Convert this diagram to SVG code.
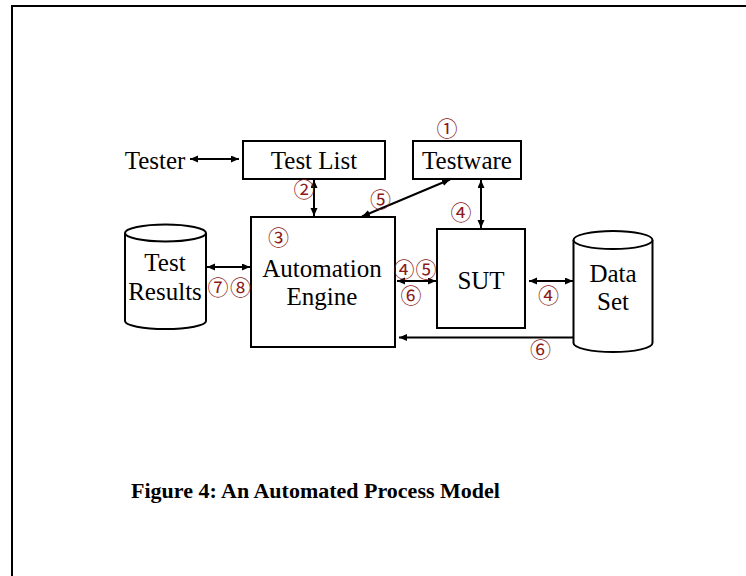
<svg xmlns="http://www.w3.org/2000/svg" width="746" height="576" viewBox="0 0 746 576">
<defs>
<marker id="ah" markerUnits="userSpaceOnUse" markerWidth="9" markerHeight="8" refX="8" refY="3.5" orient="auto-start-reverse">
<path d="M0,0 L8,3.5 L0,7 z" fill="#000"/>
</marker>
<style>
.box{fill:#fff;stroke:#000;stroke-width:2}
.cyl{fill:#fff;stroke:#000;stroke-width:2}
.lbl{font-family:"Liberation Serif","Times New Roman",serif;font-size:25px;fill:#000;text-anchor:middle}
.num{font-family:"Noto Sans CJK JP","DejaVu Sans",sans-serif;font-size:21px;fill:#8B1A1A;text-anchor:middle;dominant-baseline:central}
.con{stroke:#000;stroke-width:2;fill:none}
.ar2{marker-start:url(#ah);marker-end:url(#ah)}
.ar1{marker-end:url(#ah)}
.cap{font-family:"Liberation Serif","Times New Roman",serif;font-size:22px;font-weight:bold;fill:#000}
</style>
</defs>
<rect width="746" height="576" fill="#fff"/>
<path d="M12,576 L12,6 L746,6" fill="none" stroke="#000" stroke-width="2"/>

<g id="tester"><text class="lbl" x="155" y="169">Tester</text></g>
<g id="testlist"><rect class="box" x="243" y="141" width="142" height="38"/><text class="lbl" x="314" y="169">Test List</text></g>
<g id="testware"><rect class="box" x="413" y="141" width="108" height="38"/><text class="lbl" x="467" y="169">Testware</text></g>
<g id="engine"><rect class="box" x="251" y="217" width="144" height="130"/><text class="lbl" x="322" y="277">Automation</text><text class="lbl" x="322" y="305">Engine</text></g>
<g id="sut"><rect class="box" x="437" y="229" width="88" height="99"/><text class="lbl" x="481" y="289">SUT</text></g>
<g id="testresults">
<path class="cyl" d="M125,233 L125,321 A40.5,8 0 0 0 206,321 L206,233"/>
<ellipse class="cyl" cx="165.5" cy="233" rx="40.5" ry="8.5"/>
<text class="lbl" x="165" y="271">Test</text><text class="lbl" x="165" y="300">Results</text>
</g>
<g id="dataset">
<path class="cyl" d="M573.5,240 L573.5,343 A39.5,9 0 0 0 652.5,343 L652.5,240"/>
<ellipse class="cyl" cx="613" cy="240" rx="39.5" ry="9"/>
<text class="lbl" x="613" y="282">Data</text><text class="lbl" x="613" y="310">Set</text>
</g>

<g id="connectors">
<line class="con ar2" x1="190" y1="159" x2="239" y2="159"/>
<line class="con ar2" x1="314" y1="180" x2="314" y2="216"/>
<line class="con ar2" x1="450" y1="179.5" x2="362" y2="216.5"/>
<line class="con ar2" x1="481" y1="180" x2="481" y2="228"/>
<line class="con ar2" x1="207" y1="267" x2="250" y2="267"/>
<line class="con ar2" x1="397" y1="281" x2="436" y2="281"/>
<line class="con ar2" x1="529" y1="281" x2="573" y2="281"/>
<line class="con ar1" x1="573" y1="337.5" x2="399" y2="337.5"/>
</g>

<g id="labels">
<text class="num" x="447" y="127">①</text>
<text class="num" x="304" y="188">②</text>
<text class="num" x="380.5" y="198">⑤</text>
<text class="num" x="461" y="210.5">④</text>
<text class="num" x="278.5" y="235.5">③</text>
<text class="num" x="218" y="286">⑦</text>
<text class="num" x="240.5" y="286">⑧</text>
<text class="num" x="404" y="267.5">④</text>
<text class="num" x="426" y="267.5">⑤</text>
<text class="num" x="411" y="293.5">⑥</text>
<text class="num" x="548.5" y="293.5">④</text>
<text class="num" x="540.5" y="347.5">⑥</text>
</g>

<text class="cap" x="131" y="498">Figure 4: An Automated Process Model</text>
</svg>
